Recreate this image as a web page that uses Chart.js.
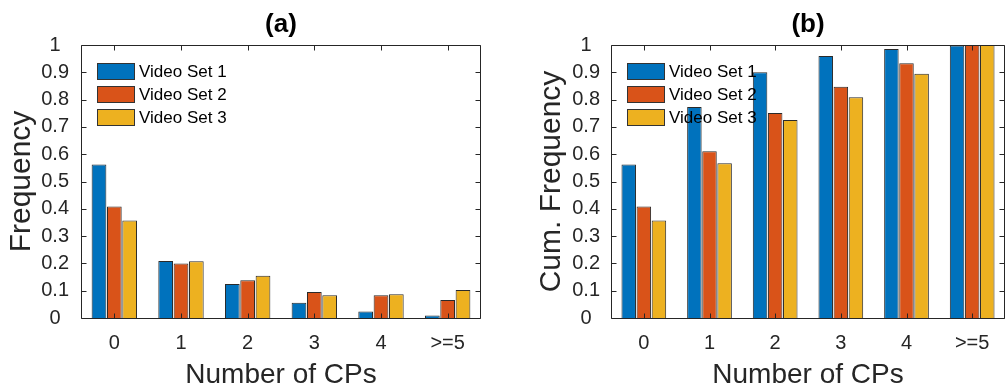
<!DOCTYPE html>
<html>
<head>
<meta charset="utf-8">
<script src="https://cdn.jsdelivr.net/npm/chart.js@4/dist/chart.umd.min.js"></script>
<style>
  html, body { margin: 0; padding: 0; background: #fff; }
  #wrap { position: relative; width: 1006px; height: 389px; }
  #chartA { position: absolute; left: 0; top: 0; }
  #chartB { position: absolute; left: 500px; top: 0; }
</style>
</head>
<body>
<div id="wrap">
  <canvas id="chartA" width="500" height="389"></canvas>
  <canvas id="chartB" width="506" height="389"></canvas>
</div>
<script>
// categories (number of change points)
const categories = ["0", "1", "2", "3", "4", ">=5"];
const seriesNames = ["Video Set 1", "Video Set 2", "Video Set 3"];

// (a) frequency
const freqSet1 = [0.562, 0.209, 0.125, 0.056, 0.024, 0.009];
const freqSet2 = [0.408, 0.200, 0.138, 0.095, 0.083, 0.066];
const freqSet3 = [0.357, 0.208, 0.155, 0.083, 0.087, 0.103];

// (b) cumulative frequency
const cumSet1 = [0.562, 0.773, 0.900, 0.960, 0.985, 0.998];
const cumSet2 = [0.408, 0.611, 0.751, 0.847, 0.933, 1.000];
const cumSet3 = [0.357, 0.567, 0.725, 0.809, 0.895, 1.000];

const yMin = 0, yMax = 1, yStep = 0.1;

const colors = ["#0072BD", "#D95319", "#EDB120"];
const axisColor = "#262626";
const fontFamily = "'Liberation Sans', Arial, Helvetica, sans-serif";

// box around the axes with inward ticks on all four sides (matlab style)
const framePlugin = {
  id: "frame",
  afterDatasetsDraw(chart) {
    const { ctx, chartArea: a, scales: { x, y } } = chart;
    const L = Math.round(a.left) + 0.5, R = Math.round(a.right) - 0.5;
    const T = Math.round(a.top) + 0.5, B = Math.round(a.bottom) + 0.5;
    const tl = 5;
    ctx.save();
    ctx.strokeStyle = axisColor;
    ctx.lineWidth = 1;
    ctx.beginPath();
    ctx.rect(L, T, R - L, B - T);
    y.ticks.forEach(t => {
      const py = Math.round(y.getPixelForValue(t.value)) + 0.5;
      ctx.moveTo(L, py); ctx.lineTo(L + tl, py);
      ctx.moveTo(R, py); ctx.lineTo(R - tl, py);
    });
    categories.forEach((c, i) => {
      const px = Math.round(x.getPixelForValue(i)) + 0.5;
      ctx.moveTo(px, T); ctx.lineTo(px, T + tl);
      ctx.moveTo(px, B); ctx.lineTo(px, B - tl);
    });
    ctx.stroke();
    ctx.restore();
  }
};

// legend inside the axes, transparent, no border
const insideLegend = {
  id: "insideLegend",
  afterDatasetsDraw(chart) {
    const { ctx, chartArea: a } = chart;
    const bx = a.left + 16, by = a.top + 18;
    const bw = 38, bh = 17, gap = 23;
    ctx.save();
    ctx.font = "17px " + fontFamily;
    ctx.textBaseline = "middle";
    ctx.textAlign = "left";
    chart.data.datasets.forEach((ds, i) => {
      const top = by + i * gap;
      ctx.fillStyle = ds.backgroundColor;
      ctx.fillRect(bx, top, bw, bh);
      ctx.strokeStyle = "#333";
      ctx.lineWidth = 1;
      ctx.strokeRect(bx + 0.5, top + 0.5, bw - 1, bh - 1);
      ctx.fillStyle = "#000";
      ctx.fillText(ds.label, bx + bw + 4, top + bh / 2 + 1);
    });
    ctx.restore();
  }
};

function makeDatasets(vals) {
  return vals.map((v, i) => ({
    label: seriesNames[i],
    data: v,
    backgroundColor: colors[i],
    borderColor: "#2a2a2a",
    borderWidth: 1,
    categoryPercentage: 0.69,
    barPercentage: 0.96
  }));
}

function makeConfig(title, yTitle, vals, yAxisWidth, rightPad, yTitlePad, yTickPad) {
  return {
    type: "bar",
    data: { labels: categories, datasets: makeDatasets(vals) },
    options: {
      responsive: false,
      animation: false,
      devicePixelRatio: 1,
      layout: { padding: { left: 0, right: rightPad, top: 0, bottom: 0 } },
      plugins: {
        legend: { display: false },
        tooltip: { enabled: false },
        title: {
          display: true,
          text: title,
          fullSize: false,
          color: "#000",
          font: { family: fontFamily, size: 26, weight: "bold", lineHeight: 1.2 },
          padding: { top: 9, bottom: 4.8 }
        }
      },
      scales: {
        x: {
          grid: { display: false, drawTicks: false },
          border: { display: false },
          ticks: {
            color: axisColor,
            padding: 13,
            maxRotation: 0,
            font: { family: fontFamily, size: 20 }
          },
          title: {
            display: true,
            text: "Number of CPs",
            color: axisColor,
            font: { family: fontFamily, size: 28, lineHeight: 1 },
            padding: { top: 0, bottom: 0 }
          },
          afterFit(s) { s.height = 71; }
        },
        y: {
          min: yMin,
          max: yMax,
          grid: { display: false, drawTicks: false },
          border: { display: false },
          ticks: {
            stepSize: yStep,
            color: axisColor,
            crossAlign: "center",
            padding: yTickPad,
            font: { family: fontFamily, size: 20 },
            callback: v => String(parseFloat(v.toFixed(1)))
          },
          title: {
            display: true,
            text: yTitle,
            color: axisColor,
            font: { family: fontFamily, size: 30, lineHeight: 1.2 },
            padding: { top: yTitlePad, bottom: 0 }
          },
          afterFit(s) { s.width = yAxisWidth; }
        }
      }
    },
    plugins: [framePlugin, insideLegend]
  };
}

new Chart(document.getElementById("chartA"),
  makeConfig("(a)", "Frequency", [freqSet1, freqSet2, freqSet3], 81, 19, 4, 12));
new Chart(document.getElementById("chartB"),
  makeConfig("(b)", "Cum. Frequency", [cumSet1, cumSet2, cumSet3], 111, 1, 34, 11));
</script>
</body>
</html>
